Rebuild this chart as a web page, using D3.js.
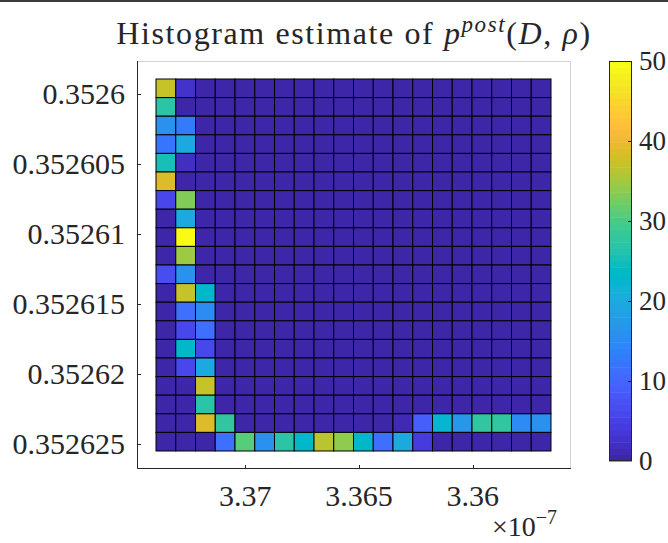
<!DOCTYPE html>
<html>
<head>
<meta charset="utf-8">
<script src="https://cdn.jsdelivr.net/npm/d3@7"></script>
<style>
  body { margin: 0; background: #fff; }
  svg text { font-family: "Liberation Serif", "Times New Roman", serif; fill: #262626; }
</style>
</head>
<body>
<div id="container"></div>
<script>
// D is in units of 1e-7 (the axis shows a x10^-7 multiplier)
const dBinLimits = [3.356557, 3.373927];
const rhoBinLimits = [0.352598906, 0.3526255];
const dAxisLimits = [3.355677, 3.374763];
const rhoAxisLimits = [0.352597619, 0.352626787];
const dTicks = [3.37, 3.365, 3.36];
const rhoTicks = [0.3526, 0.352605, 0.35261, 0.352615, 0.35262, 0.352625];
const colorTicks = [0, 10, 20, 30, 40, 50];
const colorLimits = [0, 50];

// counts[row][col]: row 0 = smallest rho (top), col 0 = largest D (left)
const counts = [
  [37, 3, 0, 0, 0, 0, 0, 0, 0, 0, 0, 0, 0, 0, 0, 0, 0, 0, 0, 0],
  [27, 0, 0, 0, 0, 0, 0, 0, 0, 0, 0, 0, 0, 0, 0, 0, 0, 0, 0, 0],
  [16, 13, 0, 0, 0, 0, 0, 0, 0, 0, 0, 0, 0, 0, 0, 0, 0, 0, 0, 0],
  [12, 20, 0, 0, 0, 0, 0, 0, 0, 0, 0, 0, 0, 0, 0, 0, 0, 0, 0, 0],
  [25, 2, 0, 0, 0, 0, 0, 0, 0, 0, 0, 0, 0, 0, 0, 0, 0, 0, 0, 0],
  [39, 0, 0, 0, 0, 0, 0, 0, 0, 0, 0, 0, 0, 0, 0, 0, 0, 0, 0, 0],
  [6, 33, 0, 0, 0, 0, 0, 0, 0, 0, 0, 0, 0, 0, 0, 0, 0, 0, 0, 0],
  [0, 20, 0, 0, 0, 0, 0, 0, 0, 0, 0, 0, 0, 0, 0, 0, 0, 0, 0, 0],
  [0, 50, 0, 0, 0, 0, 0, 0, 0, 0, 0, 0, 0, 0, 0, 0, 0, 0, 0, 0],
  [0, 35, 0, 0, 0, 0, 0, 0, 0, 0, 0, 0, 0, 0, 0, 0, 0, 0, 0, 0],
  [7, 16, 0, 0, 0, 0, 0, 0, 0, 0, 0, 0, 0, 0, 0, 0, 0, 0, 0, 0],
  [0, 37, 23, 0, 0, 0, 0, 0, 0, 0, 0, 0, 0, 0, 0, 0, 0, 0, 0, 0],
  [0, 11, 15, 0, 0, 0, 0, 0, 0, 0, 0, 0, 0, 0, 0, 0, 0, 0, 0, 0],
  [0, 6, 11, 0, 0, 0, 0, 0, 0, 0, 0, 0, 0, 0, 0, 0, 0, 0, 0, 0],
  [0, 23, 6, 0, 0, 0, 0, 0, 0, 0, 0, 0, 0, 0, 0, 0, 0, 0, 0, 0],
  [0, 6, 20, 0, 0, 0, 0, 0, 0, 0, 0, 0, 0, 0, 0, 0, 0, 0, 0, 0],
  [0, 0, 37, 0, 0, 0, 0, 0, 0, 0, 0, 0, 0, 0, 0, 0, 0, 0, 0, 0],
  [0, 0, 27, 0, 0, 0, 0, 0, 0, 0, 0, 0, 0, 0, 0, 0, 0, 0, 0, 0],
  [0, 0, 39, 28, 0, 0, 0, 0, 0, 0, 0, 0, 1, 9, 22, 17, 28, 28, 15, 16],
  [0, 0, 0, 11, 31, 16, 27, 23, 36, 34, 23, 11, 20, 4, 0, 0, 0, 0, 0, 0]
];

// MATLAB parula, 64 entries
const parula = [
  [0.2422,0.1504,0.6603],[0.2504,0.1650,0.7076],[0.2578,0.1818,0.7511],[0.2647,0.1978,0.7952],
  [0.2706,0.2147,0.8364],[0.2751,0.2342,0.8710],[0.2783,0.2559,0.8991],[0.2803,0.2782,0.9221],
  [0.2813,0.3006,0.9414],[0.2810,0.3228,0.9579],[0.2795,0.3447,0.9717],[0.2760,0.3667,0.9829],
  [0.2699,0.3892,0.9906],[0.2602,0.4123,0.9952],[0.2440,0.4358,0.9988],[0.2206,0.4603,0.9973],
  [0.1963,0.4847,0.9892],[0.1834,0.5074,0.9798],[0.1786,0.5289,0.9682],[0.1764,0.5499,0.9520],
  [0.1687,0.5703,0.9359],[0.1540,0.5902,0.9218],[0.1460,0.6091,0.9079],[0.1380,0.6276,0.8973],
  [0.1248,0.6459,0.8883],[0.1113,0.6635,0.8763],[0.0952,0.6798,0.8598],[0.0689,0.6948,0.8394],
  [0.0297,0.7082,0.8163],[0.0036,0.7203,0.7917],[0.0067,0.7312,0.7660],[0.0433,0.7411,0.7394],
  [0.0964,0.7500,0.7120],[0.1408,0.7584,0.6842],[0.1717,0.7670,0.6554],[0.1938,0.7758,0.6251],
  [0.2161,0.7843,0.5923],[0.2470,0.7918,0.5567],[0.2906,0.7973,0.5188],[0.3406,0.8008,0.4789],
  [0.3909,0.8029,0.4354],[0.4456,0.8024,0.3909],[0.5044,0.7993,0.3480],[0.5616,0.7942,0.3045],
  [0.6174,0.7876,0.2612],[0.6720,0.7793,0.2227],[0.7242,0.7698,0.1910],[0.7738,0.7598,0.1646],
  [0.8203,0.7498,0.1535],[0.8634,0.7406,0.1596],[0.9035,0.7330,0.1774],[0.9393,0.7288,0.2100],
  [0.9728,0.7298,0.2394],[0.9956,0.7434,0.2371],[0.9970,0.7659,0.2199],[0.9952,0.7893,0.2028],
  [0.9892,0.8136,0.1885],[0.9786,0.8386,0.1766],[0.9676,0.8639,0.1643],[0.9610,0.8890,0.1537],
  [0.9597,0.9135,0.1423],[0.9628,0.9373,0.1265],[0.9691,0.9606,0.1064],[0.9769,0.9839,0.0805]
].map(c => d3.rgb(c[0] * 255, c[1] * 255, c[2] * 255).formatHex());

const color = d3.scaleQuantize().domain(colorLimits).range(parula);

const width = 668, height = 543;
const ax = {left: 137, right: 571, top: 61, bottom: 469};
const cb = {left: 609, right: 632, top: 61, bottom: 461};
const darkAxis = "#262626";

const svg = d3.select("#container").append("svg")
    .attr("width", width)
    .attr("height", height);

svg.append("rect").attr("width", width).attr("height", 2).attr("fill", "#3c3c3c");

// both axes are reversed
const x = d3.scaleLinear().domain([dAxisLimits[1], dAxisLimits[0]]).range([ax.left, ax.right]);
const y = d3.scaleLinear().domain(rhoAxisLimits).range([ax.top, ax.bottom]);

const nRows = counts.length, nCols = counts[0].length;
const dStep = (dBinLimits[1] - dBinLimits[0]) / nCols;
const rhoStep = (rhoBinLimits[1] - rhoBinLimits[0]) / nRows;

const cells = [];
counts.forEach((row, r) => row.forEach((v, c) => cells.push({r, c, v})));

// axes box: light top/right, dark left/bottom
svg.append("rect")
    .attr("x", ax.left).attr("y", ax.top)
    .attr("width", ax.right - ax.left).attr("height", ax.bottom - ax.top)
    .attr("fill", "#fff");
svg.append("path")
    .attr("d", `M${ax.left},${ax.top + 0.5}H${ax.right - 0.5}V${ax.bottom}`)
    .attr("fill", "none").attr("stroke", "#d4d4d4").attr("stroke-width", 1);

svg.append("g")
  .selectAll("rect")
  .data(cells)
  .join("rect")
    .attr("x", d => x(dBinLimits[1] - d.c * dStep))
    .attr("y", d => y(rhoBinLimits[0] + d.r * rhoStep))
    .attr("width", d => x(dBinLimits[1] - (d.c + 1) * dStep) - x(dBinLimits[1] - d.c * dStep))
    .attr("height", d => y(rhoBinLimits[0] + (d.r + 1) * rhoStep) - y(rhoBinLimits[0] + d.r * rhoStep))
    .attr("fill", d => color(d.v))
    .attr("stroke", "#000")
    .attr("stroke-width", 1);

svg.append("path")
    .attr("d", `M${ax.left + 0.5},${ax.top}V${ax.bottom - 0.5}H${ax.right}`)
    .attr("fill", "none").attr("stroke", darkAxis).attr("stroke-width", 1);

// ticks (inward) and labels
const fs = 30;
svg.append("g").selectAll("line")
  .data(rhoTicks).join("line")
    .attr("x1", ax.left).attr("x2", ax.left + 4)
    .attr("y1", d => Math.round(y(d)) + 0.5).attr("y2", d => Math.round(y(d)) + 0.5)
    .attr("stroke", darkAxis);
svg.append("g").selectAll("text")
  .data(rhoTicks).join("text")
    .attr("x", ax.left - 12)
    .attr("y", d => y(d))
    .attr("dy", "0.33em")
    .attr("text-anchor", "end")
    .attr("font-size", fs)
    .text(d => d3.format("")(d));

svg.append("g").selectAll("line")
  .data(dTicks).join("line")
    .attr("x1", d => Math.round(x(d)) + 0.5).attr("x2", d => Math.round(x(d)) + 0.5)
    .attr("y1", ax.bottom).attr("y2", ax.bottom - 4)
    .attr("stroke", darkAxis);
svg.append("g").selectAll("text")
  .data(dTicks).join("text")
    .attr("x", d => x(d))
    .attr("y", 506)
    .attr("text-anchor", "middle")
    .attr("font-size", fs)
    .text(d => d3.format("")(d));

const mult = svg.append("text").attr("x", 492).attr("y", 536).attr("font-size", 28);
mult.append("tspan").text("\u00d710");
mult.append("tspan").attr("font-size", 20).attr("dy", -12).text("\u22127");

// title
const title = svg.append("text")
    .attr("x", (ax.left + ax.right) / 2)
    .attr("y", 44)
    .attr("text-anchor", "middle")
    .attr("font-size", 32)
    .attr("letter-spacing", 1.6);
title.append("tspan").text("Histogram estimate of ");
title.append("tspan").attr("font-style", "italic").text("p");
title.append("tspan").attr("font-style", "italic").attr("font-size", 23).attr("dy", -12).text("post");
title.append("tspan").attr("dy", 12).text("(");
title.append("tspan").attr("font-style", "italic").text("D");
title.append("tspan").text(", ");
title.append("tspan").attr("font-style", "italic").text("\u03c1");
title.append("tspan").text(")");

// colorbar
const cy = d3.scaleLinear().domain(colorLimits).range([cb.bottom, cb.top]);
const stepV = (colorLimits[1] - colorLimits[0]) / parula.length;
svg.append("g").selectAll("rect")
  .data(parula).join("rect")
    .attr("x", cb.left)
    .attr("y", (d, i) => cy((i + 1) * stepV))
    .attr("width", cb.right - cb.left)
    .attr("height", (d, i) => cy(i * stepV) - cy((i + 1) * stepV) + 0.5)
    .attr("fill", d => d);
svg.append("rect")
    .attr("x", cb.left + 0.5).attr("y", cb.top + 0.5)
    .attr("width", cb.right - cb.left - 1).attr("height", cb.bottom - cb.top - 1)
    .attr("fill", "none").attr("stroke", darkAxis);
svg.append("g").selectAll("line")
  .data(colorTicks.slice(1, -1)).join("line")
    .attr("x1", cb.right - 4).attr("x2", cb.right)
    .attr("y1", d => Math.round(cy(d)) + 0.5).attr("y2", d => Math.round(cy(d)) + 0.5)
    .attr("stroke", darkAxis);
svg.append("g").selectAll("text")
  .data(colorTicks).join("text")
    .attr("x", cb.right + 7)
    .attr("y", d => cy(d))
    .attr("dy", "0.33em")
    .attr("font-size", 27)
    .text(d => d);
</script>
</body>
</html>
